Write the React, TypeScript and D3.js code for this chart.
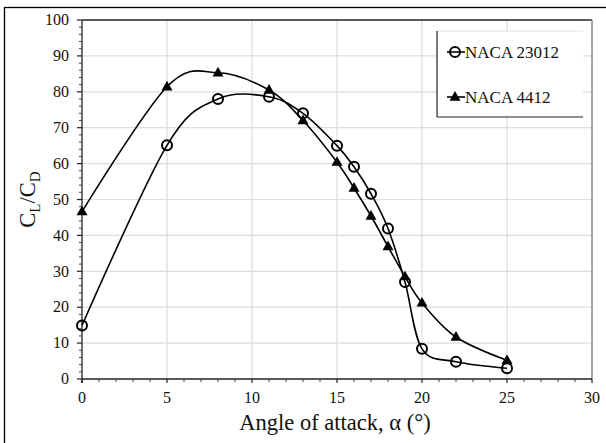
import React from "react";
import * as d3 from "d3";

const alpha = [0, 5, 8, 11, 13, 15, 16, 17, 18, 19, 20, 22, 25];
const naca23012 = [14.9, 65.1, 78.0, 78.6, 74.0, 65.0, 59.1, 51.6, 41.9, 27.0, 8.4, 4.8, 3.0];
const naca4412 = [46.6, 81.4, 85.3, 80.5, 72.0, 60.4, 53.2, 45.4, 36.9, 28.5, 21.2, 11.7, 5.2];
const xTicks = [0, 5, 10, 15, 20, 25, 30];
const yTicks = [0, 10, 20, 30, 40, 50, 60, 70, 80, 90, 100];
const seriesNames = ["NACA 23012", "NACA 4412"];

const W = 606, H = 443;
const L = 82, R = 592, T = 20, B = 379;
const FONT = "Liberation Serif";

export default function App() {
  const x = d3.scaleLinear().domain([0, 30]).range([L, R]);
  const y = d3.scaleLinear().domain([0, 100]).range([B, T]);
  const line = d3
    .line<number>()
    .x((_, i) => x(alpha[i]))
    .y((d) => y(d))
    .curve(d3.curveCardinal.tension(0));

  const xMinor = d3.range(0, 31, 1).filter((v) => v % 5 !== 0);
  const yMinor = d3.range(0, 101, 2).filter((v) => v % 10 !== 0);

  const tri = (cx: number, cy: number, s = 11) => {
    const h = s * 0.87;
    return `M${cx},${cy - h * 0.62} L${cx + s / 2},${cy + h * 0.38} L${cx - s / 2},${cy + h * 0.38} Z`;
  };
  const ts = { fontFamily: FONT };

  return (
    <svg width={W} height={H} style={{ position: "absolute", left: 0, top: 0, background: "#fff" }}>
      <rect x={4.5} y={7.5} width={620} height={450} fill="#fff" stroke="#000" strokeWidth={1.3} />
      {yTicks.filter((v) => v > 0 && v < 100).map((v) => (
        <line key={"gy" + v} x1={L} x2={R} y1={y(v)} y2={y(v)} stroke="#dcdcdc" strokeWidth={1.2} />
      ))}
      {xTicks.filter((v) => v > 0 && v < 30).map((v) => (
        <line key={"gx" + v} x1={x(v)} x2={x(v)} y1={T} y2={B} stroke="#dcdcdc" strokeWidth={1.2} />
      ))}
      <line x1={L} x2={R} y1={T} y2={T} stroke="#222" strokeWidth={1.3} />
      <line x1={R} x2={R} y1={T} y2={B} stroke="#888" strokeWidth={1.5} />
      <line x1={L} x2={L} y1={T} y2={B + 4} stroke="#222" strokeWidth={1.3} />
      <line x1={L} x2={R} y1={B} y2={B} stroke="#222" strokeWidth={1.3} />
      {yTicks.map((v) => (
        <line key={"ty" + v} x1={L - 5} x2={L} y1={y(v)} y2={y(v)} stroke="#222" strokeWidth={1.2} />
      ))}
      {yMinor.map((v) => (
        <line key={"my" + v} x1={L - 3} x2={L} y1={y(v)} y2={y(v)} stroke="#444" strokeWidth={1} />
      ))}
      {xTicks.map((v) => (
        <line key={"tx" + v} x1={x(v)} x2={x(v)} y1={B} y2={B + 4} stroke="#222" strokeWidth={1.2} />
      ))}
      {xMinor.map((v) => (
        <line key={"mx" + v} x1={x(v)} x2={x(v)} y1={B} y2={B + 3} stroke="#444" strokeWidth={1} />
      ))}
      {yTicks.map((v) => (
        <text key={"ly" + v} style={ts} x={L - 13} y={y(v)} dy="0.33em" textAnchor="end" fontSize={16} fill="#111">
          {v}
        </text>
      ))}
      {xTicks.map((v) => (
        <text key={"lx" + v} style={ts} x={x(v)} y={403} textAnchor="middle" fontSize={16} fill="#111">
          {v}
        </text>
      ))}
      <text style={ts} x={(L + R) / 2 - 2} y={430} textAnchor="middle" fontSize={22.5} fill="#111">
        Angle of attack, α (°)
      </text>
      <text style={ts} transform={`translate(35,${(T + B) / 2}) rotate(-90)`} textAnchor="middle" fontSize={22.5} fill="#111">
        C<tspan fontSize={15} dy={5}>L</tspan>
        <tspan dy={-5}>/C</tspan>
        <tspan fontSize={15} dy={5}>D</tspan>
      </text>
      <path d={line(naca23012) || ""} fill="none" stroke="#000" strokeWidth={1.6} />
      <path d={line(naca4412) || ""} fill="none" stroke="#000" strokeWidth={1.6} />
      {naca4412.map((v, i) => (
        <path key={"t" + i} d={tri(x(alpha[i]), y(v))} fill="#000" />
      ))}
      {naca23012.map((v, i) => (
        <circle key={"c" + i} cx={x(alpha[i])} cy={y(v)} r={5} fill="none" stroke="#000" strokeWidth={2} />
      ))}
      <rect x={437} y={31} width={146} height={86} fill="#fff" />
      <line x1={437} x2={583} y1={31} y2={31} stroke="#e0e0e0" strokeWidth={1} />
      <line x1={437} x2={437} y1={31} y2={117} stroke="#222" strokeWidth={1.2} />
      <line x1={437} x2={583} y1={117} y2={117} stroke="#222" strokeWidth={1.2} />
      <line x1={447} x2={465} y1={52} y2={52} stroke="#000" strokeWidth={1.6} />
      <circle cx={455} cy={52} r={5} fill="none" stroke="#000" strokeWidth={2} />
      <text style={ts} x={465} y={52} dy="0.35em" fontSize={17} fill="#111">{seriesNames[0]}</text>
      <line x1={447} x2={465} y1={97} y2={97} stroke="#000" strokeWidth={1.6} />
      <path d={tri(455, 97)} fill="#000" />
      <text style={ts} x={465} y={97} dy="0.35em" fontSize={17} fill="#111">{seriesNames[1]}</text>
    </svg>
  );
}
